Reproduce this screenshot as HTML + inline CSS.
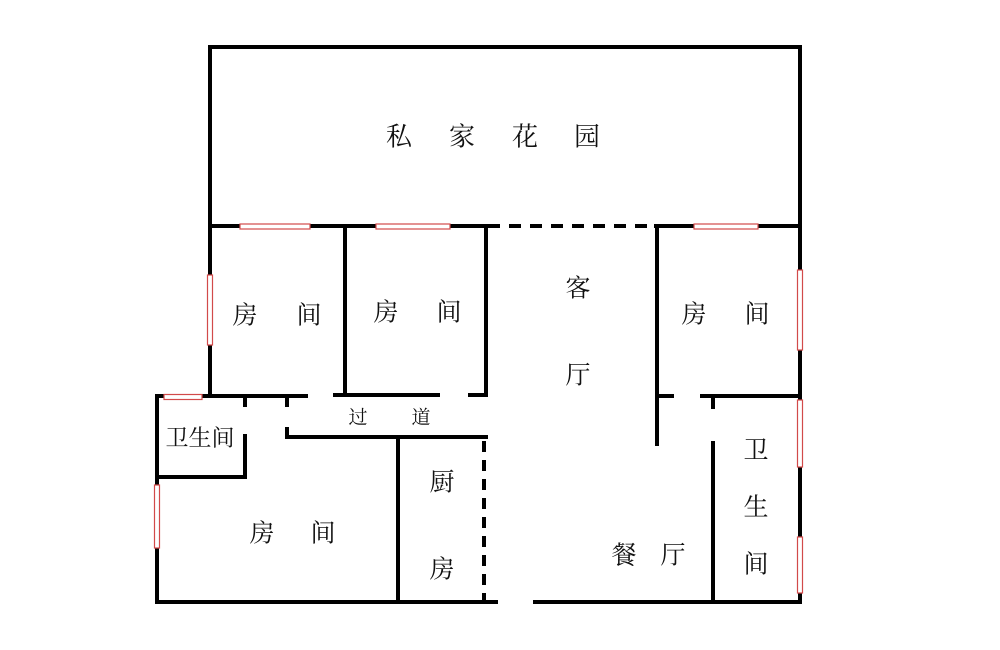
<!DOCTYPE html>
<html><head><meta charset="utf-8"><style>
html,body{margin:0;padding:0;background:#fff;}
svg{display:block;}
text{font-family:"Liberation Serif","Noto Serif CJK SC","Noto Sans CJK SC",serif;fill:#111;text-anchor:middle;dominant-baseline:central;}
</style></head><body>
<svg width="1000" height="650" viewBox="0 0 1000 650" xmlns="http://www.w3.org/2000/svg">
<g stroke="#000" stroke-width="4" fill="none" stroke-linecap="square">
<!-- garden -->
<polyline points="210,226 210,47 800,47 800,602"/>
<line x1="210" y1="226" x2="486" y2="226"/>
<line x1="488" y1="226" x2="656" y2="226" stroke-dasharray="12,9" stroke-linecap="butt"/>
<line x1="656" y1="226" x2="800" y2="226"/>
<!-- left rooms -->
<line x1="210" y1="226" x2="210" y2="395"/>
<line x1="345" y1="226" x2="345" y2="394"/>
<line x1="486" y1="226" x2="486" y2="394"/>
<line x1="157" y1="396" x2="306" y2="396"/>
<line x1="335" y1="395" x2="438" y2="395"/>
<line x1="470" y1="395" x2="486" y2="395"/>
<line x1="245" y1="396" x2="245" y2="405"/>
<line x1="287" y1="396" x2="287" y2="405"/>
<!-- corridor bottom -->
<polyline points="287,429 287,437 486,437"/>
<!-- bathroom left -->
<line x1="157" y1="396" x2="157" y2="602"/>
<polyline points="245,436 245,477 157,477"/>
<!-- kitchen -->
<line x1="398" y1="437" x2="398" y2="602"/>
<line x1="484" y1="441" x2="484" y2="600" stroke-dasharray="11,8" stroke-linecap="butt"/>
<!-- bottom -->
<line x1="157" y1="602" x2="496" y2="602"/>
<line x1="535" y1="602" x2="800" y2="602"/>
<!-- right -->
<line x1="657" y1="226" x2="657" y2="444"/>
<line x1="657" y1="396" x2="672" y2="396"/>
<line x1="702" y1="396" x2="800" y2="396"/>
<line x1="713" y1="396" x2="713" y2="407"/>
<line x1="713" y1="443" x2="713" y2="602"/>
</g>
<!-- windows -->
<g fill="#fff" stroke="#d24a4a" stroke-width="1.2">
<rect x="240" y="224" width="70" height="5"/>
<rect x="376" y="224" width="74" height="5"/>
<rect x="694" y="224" width="64" height="5"/>
<rect x="207.5" y="275" width="5" height="70"/>
<rect x="797.5" y="270" width="5" height="80"/>
<rect x="797.5" y="400" width="5" height="67"/>
<rect x="797.5" y="537" width="5" height="56"/>
<rect x="154.5" y="485" width="5" height="63"/>
<rect x="164" y="394.5" width="38" height="5"/>
</g>
<g font-size="26">
<text x="399" y="137">私</text><text x="462" y="137">家</text><text x="525" y="137">花</text><text x="587" y="137">园</text>
</g>
<g font-size="25">
<text x="245" y="316">房</text><text x="309" y="316">间</text>
<text x="386" y="313">房</text><text x="449" y="313">间</text>
<text x="578" y="289">客</text><text x="578" y="376">厅</text>
<text x="694" y="315">房</text><text x="757" y="315">间</text>
<text x="262" y="534">房</text><text x="323" y="534">间</text>
<text x="442" y="483">厨</text><text x="442" y="570">房</text>
<text x="624" y="556">餐</text><text x="673" y="556">厅</text>
<text x="756" y="451">卫</text><text x="756" y="508">生</text><text x="756" y="565">间</text>
</g>
<text x="200" y="438" font-size="23">卫生间</text>
<g font-size="19"><text x="358" y="418">过</text><text x="421" y="418">道</text></g>
</svg>
</body></html>
